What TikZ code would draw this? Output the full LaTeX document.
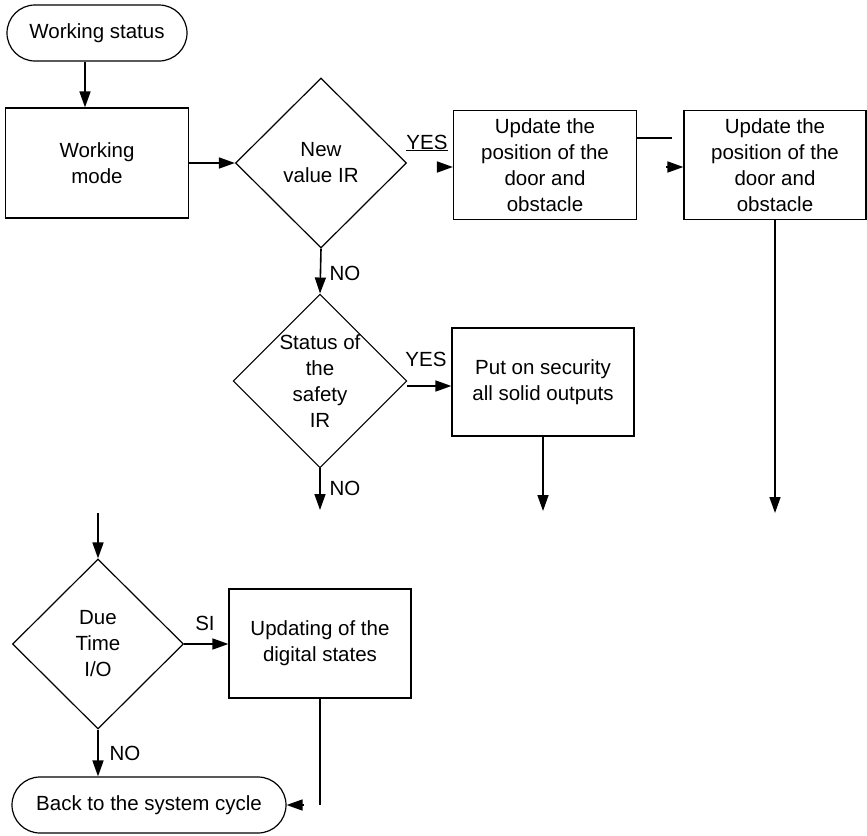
\documentclass[tikz,border=0pt]{standalone}
\usepackage{fontspec}
\setmainfont{Liberation Sans}
\usepackage{tikz}
\usetikzlibrary{shapes.geometric,arrows.meta,calc}

\begin{document}
\begin{tikzpicture}[x=1pt,y=-1pt,->,>={Triangle[length=16pt,width=11pt]},line width=1.6pt,
		font=\fontsize{20.5}{26}\selectfont,
		term/.style={draw,line width=1.2pt,rounded corners=28pt,minimum height=56pt,inner sep=0pt},
		box/.style={draw,line width=1.2pt,rectangle,align=center,inner sep=0pt},
		test/.style={draw,line width=1.2pt,diamond,align=center,inner sep=0pt,minimum width=171pt,minimum height=170pt}]
		\useasboundingbox (0,0) rectangle (867,835);
		
		\node[term,minimum width=180pt] (start) at (97,33) {Working status};
		\node[box,minimum width=183pt,minimum height=110pt] (mode) at (97,163) {Working\\mode};
		\node[test] (newir) at (321,163) {New\\value IR};
		\node[box,minimum width=183pt,minimum height=109pt] (upd1) at (545,165) {Update the\\position of the\\door and\\obstacle};
		\node[box,minimum width=182pt,minimum height=109pt] (upd2) at (775,165) {Update the\\position of the\\door and\\obstacle};
		\node[test] (safeir) at (320,381) {Status of\\the\\safety\\IR};
		\node[box,minimum width=182pt,minimum height=108pt] (secure) at (543,382) {Put on security\\all solid outputs};
		\node[test] (duetime) at (98,644) {Due\\Time\\I/O};
		\node[box,minimum width=182pt,minimum height=109pt] (digital) at (320,643.5) {Updating of the\\digital states};
		\node[term,minimum width=274pt] (back) at (149,805) {Back to the system cycle};
		
		\coordinate (out1) at (320,510);
		\coordinate (out2) at (543,511);
		\coordinate (out3) at (775,513);
		\coordinate (in3) at (98,513);
		
		\draw ([xshift=-12pt]start.south) -- ([xshift=-12pt]mode.north);
		\draw (mode.east) -- (newir.west);
		\draw ([xshift=-16pt,yshift=-2pt]upd1.west) -- ([yshift=-2pt]upd1.west);
		\draw[-] ([yshift=27pt]upd1.east) -- ++(35pt,0);
		\draw ([xshift=-17pt,yshift=-2pt]upd2.west) -- ([yshift=-2pt]upd2.west);
		\draw (upd2.south) -- (out3);
		\draw (newir.south) -- (safeir.north);
		\draw ([yshift=-5pt]safeir.east) -- ([yshift=-5pt]safeir.east -| secure.west);
		\draw (secure.south) -- (out2);
		\draw (safeir.south) -- (out1);
		\draw (in3) -- (duetime.north);
		\draw (duetime.east) -- (duetime.east -| digital.west);
		\draw (duetime.south) -- (duetime.south |- back.north);
		\draw[-] (digital.south) -- (digital.south |- back.east);
		\draw ([xshift=17pt]back.east) -- (back.east);
		
		\node (yes1) at (427,143) {\underline{YES}};
		\node (no1) at (345,273) {NO};
		\node (yes2) at (426,359) {YES};
		\node (no2) at (345,488) {NO};
		\node (si) at (205,623) {SI};
		\node (no3) at (125,753) {NO};
		\end{tikzpicture}
\end{document}
